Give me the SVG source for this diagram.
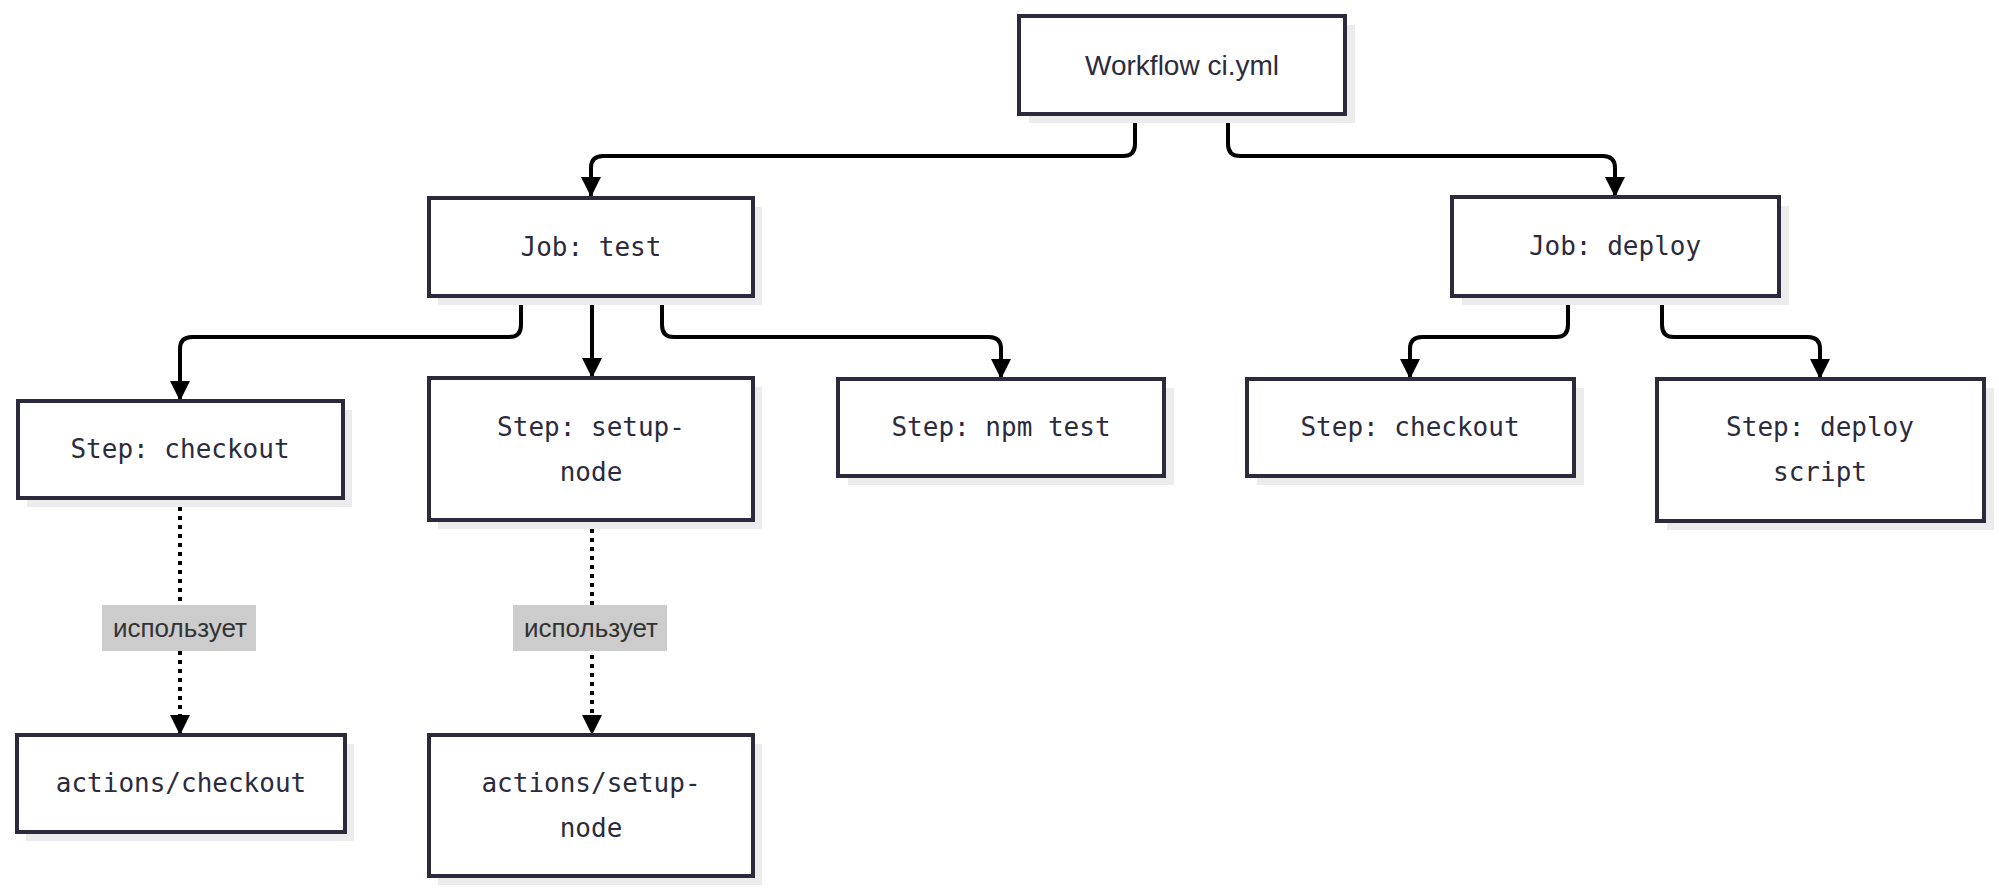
<svg xmlns="http://www.w3.org/2000/svg" width="1999" height="895" viewBox="0 0 1999 895">
<style>
.sh{fill:#ececec}
.bx{fill:#fff;stroke:#2b2b3d;stroke-width:4}
.t{font-family:"DejaVu Sans Mono","Liberation Mono",monospace;font-size:26px;fill:#2b2b3d;text-anchor:middle;dominant-baseline:central}
.e{fill:none;stroke:#000;stroke-width:4}
.d{stroke-dasharray:4 5}
.lb{fill:#cccccc}
.lt{font-family:"Liberation Sans",Arial,sans-serif;font-size:26px;fill:#333;text-anchor:middle;dominant-baseline:central}
</style>
<defs>
<marker id="a" viewBox="0 0 10 10" refX="10" refY="5" markerWidth="5" markerHeight="5" markerUnits="strokeWidth" orient="auto"><path d="M0,0L10,5L0,10z" fill="#000"/></marker>
</defs>
<g id="connectors">
<path class="e" marker-end="url(#a)" d="M1135,114V144Q1135,156 1123,156H603Q591,156 591,168V197"/>
<path class="e" marker-end="url(#a)" d="M1228,114V144Q1228,156 1240,156H1603Q1615,156 1615,168V197"/>
<path class="e" marker-end="url(#a)" d="M521,296V325Q521,337 509,337H192Q180,337 180,349V401"/>
<path class="e" marker-end="url(#a)" d="M592,296V378"/>
<path class="e" marker-end="url(#a)" d="M662,296V325Q662,337 674,337H989Q1001,337 1001,349V379"/>
<path class="e" marker-end="url(#a)" d="M1568,296V325Q1568,337 1556,337H1422Q1410,337 1410,349V379"/>
<path class="e" marker-end="url(#a)" d="M1662,296V325Q1662,337 1674,337H1808Q1820,337 1820,349V379"/>
<path class="e d" marker-end="url(#a)" d="M180,498V735"/>
<path class="e d" marker-end="url(#a)" d="M592,520V735"/>
<rect class="lb" x="102" y="605" width="154" height="46"/>
<text class="lt" x="180" y="628">использует</text>
<rect class="lb" x="513" y="605" width="154" height="46"/>
<text class="lt" x="591" y="628">использует</text>
</g>
<g id="workflow"><rect class="sh" x="1029" y="25" width="326" height="98"/><rect class="bx" x="1019" y="16" width="326" height="98"/><text class="t" x="1182" y="65" style="font-family:'Liberation Sans',sans-serif;font-size:28px">Workflow ci.yml</text></g>
<g id="jobtest"><rect class="sh" x="438" y="207" width="324" height="98"/><rect class="bx" x="429" y="198" width="324" height="98"/><text class="t" x="591" y="247">Job: test</text></g>
<g id="jobdeploy"><rect class="sh" x="1462" y="206" width="327" height="99"/><rect class="bx" x="1452" y="197" width="327" height="99"/><text class="t" x="1615" y="246">Job: deploy</text></g>
<g id="stepcheckout"><rect class="sh" x="27" y="410" width="325" height="97"/><rect class="bx" x="18" y="401" width="325" height="97"/><text class="t" x="180" y="449">Step: checkout</text></g>
<g id="stepsetup"><rect class="sh" x="438" y="387" width="324" height="142"/><rect class="bx" x="429" y="378" width="324" height="142"/><text class="t" x="591" y="427">Step: setup-</text><text class="t" x="591" y="472">node</text></g>
<g id="stepnpm"><rect class="sh" x="848" y="388" width="326" height="97"/><rect class="bx" x="838" y="379" width="326" height="97"/><text class="t" x="1001" y="427">Step: npm test</text></g>
<g id="deploycheckout"><rect class="sh" x="1257" y="388" width="327" height="97"/><rect class="bx" x="1247" y="379" width="327" height="97"/><text class="t" x="1410" y="427">Step: checkout</text></g>
<g id="deployscript"><rect class="sh" x="1667" y="388" width="327" height="142"/><rect class="bx" x="1657" y="379" width="327" height="142"/><text class="t" x="1820" y="427">Step: deploy</text><text class="t" x="1820" y="472">script</text></g>
<g id="actcheckout"><rect class="sh" x="26" y="744" width="328" height="97"/><rect class="bx" x="17" y="735" width="328" height="97"/><text class="t" x="181" y="783">actions/checkout</text></g>
<g id="actsetup"><rect class="sh" x="438" y="744" width="324" height="141"/><rect class="bx" x="429" y="735" width="324" height="141"/><text class="t" x="591" y="783">actions/setup-</text><text class="t" x="591" y="828">node</text></g>
</svg>
